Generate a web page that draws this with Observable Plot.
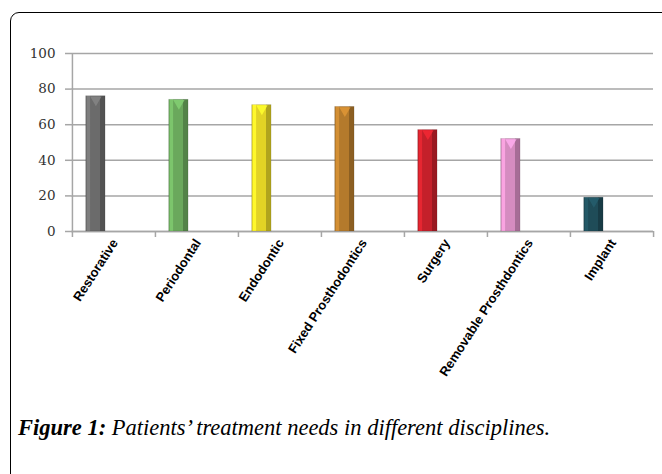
<!DOCTYPE html>
<html>
<head>
<meta charset="utf-8">
<script src="https://cdn.jsdelivr.net/npm/d3@7"></script>
<script src="https://cdn.jsdelivr.net/npm/@observablehq/plot@0.6"></script>
<style>
  html, body { margin: 0; padding: 0; background: #fff; }
  #wrap { position: relative; width: 662px; height: 474px; overflow: hidden; background: #fff; }
  #frame { position: absolute; left: 10px; top: 12px; width: 700px; height: 520px;
           border: 1.5px solid #000; border-radius: 9px; box-sizing: border-box; }
  #chart { position: absolute; left: 0; top: 0; }
  #caption { position: absolute; left: 18px; top: 415px; font-family: "Liberation Serif", "Times New Roman", serif;
             font-style: italic; font-size: 22.5px; color: #000; white-space: nowrap; }
  #caption b { font-weight: bold; }
</style>
</head>
<body>
<div id="wrap">
  <div id="frame"></div>
  <div id="chart"></div>
  <div id="caption"><b>Figure 1:</b> Patients’ treatment needs in different disciplines.</div>
</div>
<script>
const categories = ["Restorative", "Periodontal", "Endodontic", "Fixed Prosthodontics", "Surgery", "Removable Prosthdontics", "Implant"];
const values = [76, 74, 71, 70, 57, 52, 19];
const baseColors = ["#6b6b6b", "#6aa85c", "#e2d325", "#b47a2c", "#c4202a", "#d58cc0", "#1f4c58"];
const yTicks = [0, 20, 40, 60, 80, 100];

const data = categories.map((c, i) => ({category: c, value: values[i], fill: `url(#bevel${i})`, cap: d3.color(baseColors[i]).brighter(0.6).formatHex()}));

const W = 662, H = 400;
const mL = 71, mR = 9, mT = 53, mB = 169;
const bw = (W - mL - mR) / categories.length;
const inL = 13.7, barW = 19.5;

const plot = Plot.plot({
  width: W,
  height: H,
  marginLeft: mL,
  marginRight: mR,
  marginTop: mT,
  marginBottom: mB,
  style: {background: "transparent", overflow: "visible"},
  x: {domain: categories, padding: 0, align: 0.5, label: null},
  y: {domain: [0, 100], label: null},
  color: {type: "identity"},
  marks: [
    Plot.gridY(yTicks, {stroke: "#a6a6a6", strokeOpacity: 1, strokeWidth: 1.5}),
    Plot.axisY(yTicks, {tickSize: 6, tickPadding: 10, stroke: "#a6a6a6", strokeWidth: 1.5, fontSize: 13.5,
      fontFamily: "DejaVu Serif, serif", fill: "#333", label: null}),
    Plot.ruleX([0], {x: () => categories[0], dx: -bw / 2, y1: 0, y2: 100, stroke: "#a6a6a6", strokeWidth: 1.5}),
    Plot.axisX({tickSize: 0, tickPadding: 9, tickRotate: -57, fontSize: 13, fontWeight: "bold",
      fontFamily: "Liberation Sans, Arial, sans-serif", fill: "#000", label: null, dx: 1}),
    Plot.axisX({text: null, tickSize: 6, dx: -bw / 2, stroke: "#a6a6a6", strokeWidth: 1.5}),
    Plot.axisX([categories[categories.length - 1]], {text: null, tickSize: 6, dx: bw / 2, stroke: "#a6a6a6", strokeWidth: 1.5}),
    Plot.ruleY([0], {stroke: "#a6a6a6", strokeWidth: 1.5}),
    Plot.barY(data, {x: "category", y: "value", fill: "fill", insetLeft: inL, insetRight: bw - inL - barW}),
    Plot.barY(data, {x: "category", y: "value", fill: "none", stroke: "#000", strokeOpacity: 0.12, strokeWidth: 0.8,
      insetLeft: inL, insetRight: bw - inL - barW}),
    Plot.dot(data, {x: "category", y: "value", symbol: "triangle", rotate: 180, r: 4.2, fill: "cap", fillOpacity: 0.85,
      dx: inL + barW / 2 - bw / 2, dy: 3.5})
  ]
});

// bevel gradients
const svg = d3.select(plot);
const defs = svg.insert("defs", ":first-child");
baseColors.forEach((c, i) => {
  const base = d3.color(c);
  const light = d3.color(c).brighter(0.45);
  const dark = d3.color(c).darker(0.7);
  const g = defs.append("linearGradient").attr("id", `bevel${i}`).attr("x1", "0").attr("x2", "1").attr("y1", "0").attr("y2", "0");
  [[0, dark.brighter(0.3)], [0.08, light], [0.22, light], [0.25, base], [0.72, base], [0.76, dark], [1, dark]].forEach(([o, col]) => {
    g.append("stop").attr("offset", o).attr("stop-color", col.formatHex());
  });
});

document.getElementById("chart").appendChild(plot);
</script>
</body>
</html>
